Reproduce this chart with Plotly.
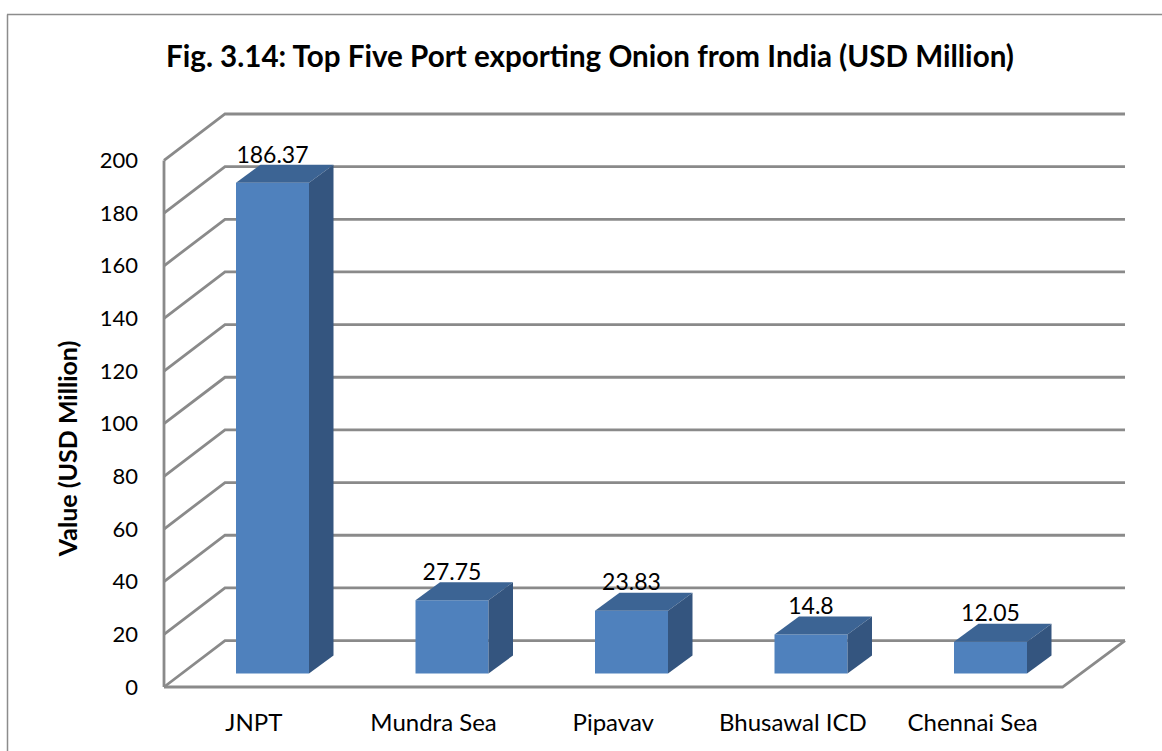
import plotly.graph_objects as go

# Data
categories = ["JNPT", "Mundra Sea", "Pipavav", "Bhusawal ICD", "Chennai Sea"]
values = [186.37, 27.75, 23.83, 14.8, 12.05]
value_labels = ["186.37", "27.75", "23.83", "14.8", "12.05"]
y_ticks = [0, 20, 40, 60, 80, 100, 120, 140, 160, 180, 200]

# Geometry of the oblique projection
W, H = 1162, 751
PX_X = 179.7          # px per category
PX_Y = 2.635          # px per value unit
AX_L, AX_B = 164, 687 # pixel position of the origin
AX_R, AX_T = 1125, 113.5
PAD = 6
WALL_DX, WALL_DY = 61 / PX_X, 46.5 / PX_Y
BAR_DX, BAR_DY = 24.5 / PX_X, 18 / PX_Y
BAR_OFF, BAR_W = 72 / PX_X, 73 / PX_X
BAR_STEP = 179.5 / PX_X
BAR_BASE = 13.6 / PX_Y
X_END = (AX_R - AX_L) / PX_X
N = len(categories)
GRAY = "#8a8a8a"

x_range = [-PAD / PX_X, X_END + PAD / PX_X]
y_range = [-PAD / PX_Y, (AX_B - AX_T) / PX_Y + PAD / PX_Y]
m_l, m_r = AX_L - PAD, W - AX_R - PAD
m_t, m_b = AX_T - PAD, H - AX_B - PAD
pw, ph = W - m_l - m_r, H - m_t - m_b


def paper_x(px):
    return (px - m_l) / pw


def paper_y(px):
    return 1 - (px - m_t) / ph


def line(xs, ys):
    path = "M " + " L ".join(f"{x},{y}" for x, y in zip(xs, ys))
    return dict(type="path", path=path, xref="x", yref="y", layer="below",
                line=dict(color=GRAY, width=2.8))


shapes = []
for t in y_ticks:
    shapes.append(line([0, WALL_DX, X_END], [t, t + WALL_DY, t + WALL_DY]))
shapes.append(line([0, 0], [0, y_ticks[-1]]))
shapes.append(line([0, N, X_END], [0, 0, WALL_DY]))
shapes.append(dict(type="line", xref="paper", yref="paper",
                   x0=paper_x(7.5), x1=paper_x(7.5), y0=paper_y(14), y1=paper_y(751),
                   line=dict(color="#8c8c8c", width=1.5)))
shapes.append(dict(type="line", xref="paper", yref="paper",
                   x0=paper_x(7), x1=paper_x(1162), y0=paper_y(14), y1=paper_y(14),
                   line=dict(color="#8c8c8c", width=1.5)))

lefts = [i * BAR_STEP + BAR_OFF for i in range(N)]
centers = [l + BAR_W / 2 for l in lefts]

fig = go.Figure()
fig.add_trace(go.Bar(x=centers, y=values, base=BAR_BASE, width=BAR_W,
                     marker=dict(color="#4f81bd", line=dict(width=0)),
                     showlegend=False, hoverinfo="skip"))
fig.add_trace(go.Scatter(
    x=centers,
    y=[v + BAR_BASE + 26 / PX_Y for v in values],
    mode="text", text=value_labels, textposition="middle center",
    textfont=dict(family="Lato", size=23, color="#000000"),
    showlegend=False, hoverinfo="skip", cliponaxis=False))
for l, v in zip(lefts, values):
    r = l + BAR_W
    b = BAR_BASE
    tp = b + v
    # top face
    fig.add_trace(go.Scatter(
        x=[l, r, r + BAR_DX, l + BAR_DX, l],
        y=[tp, tp, tp + BAR_DY, tp + BAR_DY, tp],
        mode="lines", fill="toself", fillcolor="#3c6494", line=dict(width=0),
        showlegend=False, hoverinfo="skip"))
    # side face
    fig.add_trace(go.Scatter(
        x=[r, r + BAR_DX, r + BAR_DX, r, r],
        y=[b, b + BAR_DY, tp + BAR_DY, tp, b],
        mode="lines", fill="toself", fillcolor="#34557f", line=dict(width=0),
        showlegend=False, hoverinfo="skip"))

fig.update_layout(
    width=W, height=H, autosize=False,
    margin=dict(l=m_l, r=m_r, t=m_t, b=m_b, pad=0),
    paper_bgcolor="white", plot_bgcolor="white",
    font=dict(family="Lato", color="#000000"),
    title=dict(text="<b>Fig. 3.14: Top Five Port exporting Onion from India (USD Million)</b>",
               font=dict(family="Lato", size=29.6, color="#000000"),
               x=590 / W, xanchor="center", y=1 - 57 / H, yanchor="middle"),
    shapes=shapes,
    showlegend=False,
    annotations=[dict(text="<b>Value (USD Million)</b>", textangle=-90, showarrow=False,
                      xref="paper", yref="paper", x=paper_x(67), y=paper_y(449),
                      xanchor="center", yanchor="middle",
                      font=dict(family="Lato", size=25, color="#000000"))],
    xaxis=dict(range=x_range, tickmode="array",
               tickvals=[i + 0.5 for i in range(N)], ticktext=categories,
               showgrid=False, zeroline=False, showline=False, ticks="",
               ticklabelstandoff=13,
               tickfont=dict(family="Lato", size=24)),
    yaxis=dict(range=y_range, tickmode="array", tickvals=y_ticks,
               ticktext=[str(t) for t in y_ticks],
               showgrid=False, zeroline=False, showline=False, ticks="",
               ticklabelstandoff=19,
               tickfont=dict(family="Lato", size=22)),
)

fig.write_html("out.html", config=dict(displayModeBar=False),
               post_script="document.body.style.margin='0';document.body.style.overflow='hidden';")
